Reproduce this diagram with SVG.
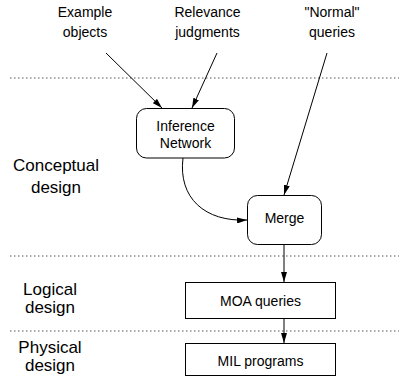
<svg xmlns="http://www.w3.org/2000/svg" width="399" height="383" viewBox="0 0 399 383">
<style>
text{font-family:"Liberation Sans",Arial,sans-serif;fill:#000}
.l{font-size:14px;text-anchor:middle}
.s{font-size:17px;text-anchor:middle}
.box{fill:#fff;stroke:#000;stroke-width:1}
.c{fill:none;stroke:#000;stroke-width:1}
.d{stroke:#555;stroke-width:1;stroke-dasharray:1.5,2.5}
</style>
<defs>
<marker id="a" viewBox="0 0 10 6" refX="10" refY="3" markerWidth="10" markerHeight="6" markerUnits="userSpaceOnUse" orient="auto">
<path d="M0,0 L10,3 L0,6 z" fill="#000"/>
</marker>
</defs>
<g id="separators">
<line class="d" x1="10" y1="78" x2="399" y2="78"/>
<line class="d" x1="10" y1="256" x2="399" y2="256"/>
<line class="d" x1="10" y1="331" x2="399" y2="331"/>
</g>
<g id="layer-labels">
<text class="s" x="56" y="171">Conceptual</text>
<text class="s" x="56" y="193">design</text>
<text class="s" x="50" y="295">Logical</text>
<text class="s" x="50" y="313">design</text>
<text class="s" x="50" y="353">Physical</text>
<text class="s" x="50" y="371">design</text>
</g>
<g id="connectors">
<line class="c" x1="106" y1="53" x2="162" y2="108" marker-end="url(#a)"/>
<line class="c" x1="217" y1="53" x2="192" y2="108" marker-end="url(#a)"/>
<line class="c" x1="327" y1="53" x2="284" y2="195" marker-end="url(#a)"/>
<path class="c" d="M183,158 C178,198 205,222 247,220" marker-end="url(#a)"/>
<line class="c" x1="284" y1="244" x2="284" y2="282" marker-end="url(#a)"/>
<line class="c" x1="284" y1="318" x2="284" y2="343" marker-end="url(#a)"/>
</g>
<g id="example-objects">
<text class="l" x="85" y="17">Example</text>
<text class="l" x="85" y="36.5">objects</text>
</g>
<g id="relevance-judgments">
<text class="l" x="207.5" y="17">Relevance</text>
<text class="l" x="207.5" y="36.5">judgments</text>
</g>
<g id="normal-queries">
<text class="l" x="332" y="17">"Normal"</text>
<text class="l" x="332" y="36.5">queries</text>
</g>
<g id="inference-network">
<rect class="box" x="136.5" y="108.5" width="98" height="49.5" rx="10"/>
<text class="l" x="185.5" y="131">Inference</text>
<text class="l" x="185.5" y="148">Network</text>
</g>
<g id="merge">
<rect class="box" x="247.5" y="195.5" width="74" height="49" rx="10"/>
<text class="l" x="284.5" y="223">Merge</text>
</g>
<g id="moa-queries">
<rect class="box" x="185.5" y="282.5" width="150" height="36"/>
<text class="l" x="260.5" y="305.5">MOA queries</text>
</g>
<g id="mil-programs">
<rect class="box" x="185.5" y="343.5" width="150" height="32"/>
<text class="l" x="260.5" y="366">MIL programs</text>
</g>
</svg>
